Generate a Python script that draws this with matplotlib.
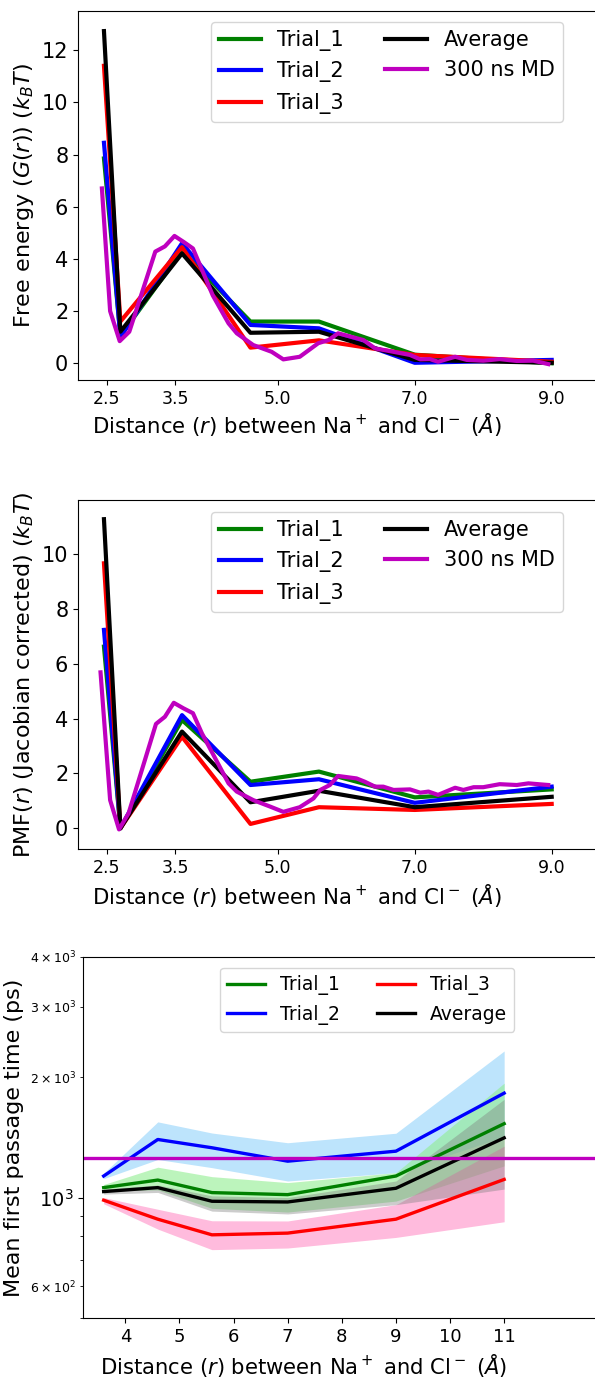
import numpy as np
import matplotlib
matplotlib.use('Agg')
import matplotlib.pyplot as plt

# x positions (Angstrom)
r_trial = [2.46, 2.7, 3.6, 4.6, 5.6, 7.0, 9.0]

# free energy G(r) in kBT
fe_trial1 = [7.85, 1.05, 4.3, 1.6, 1.6, 0.33, 0.0]
fe_trial2 = [8.45, 1.0, 4.6, 1.47, 1.34, 0.02, 0.13]
fe_trial3 = [11.4, 1.6, 4.45, 0.6, 0.88, 0.32, 0.06]
fe_avg = [12.73, 1.21, 4.21, 1.17, 1.21, 0.13, 0.02]

r_md = [2.43, 2.55, 2.69, 2.83, 3.21, 3.35, 3.49, 3.63, 3.76, 4.05, 4.28, 4.4,
        4.64, 4.91, 5.08, 5.32, 5.59, 5.74, 5.88, 6.25, 6.42, 6.69, 6.93, 7.08,
        7.22, 7.34, 7.59, 7.76, 8.0, 8.24, 8.49, 8.73, 8.95]
fe_md = [6.7, 2.0, 0.85, 1.21, 4.28, 4.48, 4.88, 4.64, 4.4, 2.6, 1.53, 1.15,
         0.7, 0.44, 0.15, 0.25, 0.77, 0.89, 1.15, 0.89, 0.57, 0.44, 0.32, 0.15,
         0.16, 0.06, 0.25, 0.13, 0.1, 0.16, 0.09, 0.1, -0.03]

# PMF (Jacobian corrected)
pmf_trial1 = [6.63, 0.0, 3.95, 1.7, 2.07, 1.13, 1.42]
pmf_trial2 = [7.24, 0.0, 4.13, 1.58, 1.79, 0.93, 1.52]
pmf_trial3 = [9.67, 0.0, 3.34, 0.16, 0.77, 0.67, 0.89]
pmf_avg = [11.28, 0.0, 3.53, 0.95, 1.37, 0.77, 1.15]

r_md2 = [2.41, 2.55, 2.68, 2.82, 3.22, 3.35, 3.48, 3.62, 3.76, 3.89, 4.28, 4.4,
         4.64, 4.89, 5.08, 5.32, 5.52, 5.62, 5.76, 5.88, 6.15, 6.27, 6.42, 6.54,
         6.69, 6.93, 7.08, 7.2, 7.34, 7.59, 7.71, 7.86, 8.0, 8.24, 8.49, 8.66, 8.95]
pmf_md = [5.69, 1.03, -0.04, 0.55, 3.81, 4.07, 4.58, 4.38, 4.2, 3.47, 1.64, 1.34,
          1.03, 0.79, 0.6, 0.77, 1.09, 1.4, 1.58, 1.91, 1.82, 1.7, 1.52, 1.52,
          1.4, 1.42, 1.3, 1.34, 1.22, 1.48, 1.4, 1.5, 1.5, 1.61, 1.58, 1.64, 1.58]

# mean first passage times (ps)
r_mfpt = [3.6, 4.6, 5.6, 7.0, 9.0, 11.0]
mfpt_trial1 = [1059, 1106, 1029, 1017, 1132, 1530]
mfpt_trial2 = [1132, 1397, 1332, 1233, 1306, 1824]
mfpt_trial3 = [985, 883, 807, 815, 883, 1110]
mfpt_avg = [1035, 1059, 979, 975, 1055, 1410]
t1_lo = [1040, 1045, 940, 920, 980, 1200]
t1_hi = [1078, 1191, 1128, 1090, 1154, 1932]
t2_lo = [1115, 1245, 1188, 1100, 1154, 1420]
t2_hi = [1150, 1546, 1450, 1371, 1448, 2325]
t3_lo = [965, 834, 741, 748, 795, 870]
t3_hi = [1000, 935, 875, 874, 960, 1344]
avg_lo = [1020, 1030, 925, 910, 960, 1050]
avg_hi = [1050, 1075, 1010, 1000, 1100, 1760]
md_mfpt = 1254

W, H = 595, 1379
fig = plt.figure(figsize=(W / 100, H / 100), dpi=100)


def box(l, t, r, b):
    return fig.add_axes([l / W, 1 - b / H, (r - l) / W, (b - t) / H])


xlab = r'Distance ($r$) between Na$^+$ and Cl$^-$ ($\AA$)'

# ---- free energy ----
ax1 = box(78, 11, 640, 380)
ax1.plot(r_trial, fe_trial1, 'g', lw=3, label='Trial_1')
ax1.plot(r_trial, fe_trial2, 'b', lw=3, label='Trial_2')
ax1.plot(r_trial, fe_trial3, 'r', lw=3, label='Trial_3')
ax1.plot(r_trial, fe_avg, 'k', lw=3, label='Average')
ax1.plot(r_md, fe_md, 'm', lw=3, label='300 ns MD')
ax1.set_xlim(2.0808, 10.29)
ax1.set_ylim(-0.64, 13.5)
ax1.set_xticks([2.5, 3.5, 5.0, 7.0, 9.0])
ax1.set_yticks(range(0, 13, 2))
ax1.set_ylabel(r'Free energy ($G(r)$) ($k_BT$)', fontsize=16)
ax1.set_xlabel(xlab, fontsize=15.3)
ax1.xaxis.set_label_coords((297 - 78) / (640 - 78), -0.085)
ax1.tick_params(axis='x', labelsize=12.5)
ax1.tick_params(axis='y', labelsize=15)
ax1.spines['right'].set_visible(False)
ax1.legend(ncol=2, fontsize=15, loc='upper right', borderaxespad=0,
           bbox_to_anchor=(563 / W, 1 - 21.7 / H), bbox_transform=fig.transFigure)

# ---- PMF ----
ax2 = box(78, 500, 640, 849)
ax2.plot(r_trial, pmf_trial1, 'g', lw=3, label='Trial_1')
ax2.plot(r_trial, pmf_trial2, 'b', lw=3, label='Trial_2')
ax2.plot(r_trial, pmf_trial3, 'r', lw=3, label='Trial_3')
ax2.plot(r_trial, pmf_avg, 'k', lw=3, label='Average')
ax2.plot(r_md2, pmf_md, 'm', lw=3, label='300 ns MD')
ax2.set_xlim(2.0808, 10.29)
ax2.set_ylim(-0.755, 11.98)
ax2.set_xticks([2.5, 3.5, 5.0, 7.0, 9.0])
ax2.set_yticks(range(0, 11, 2))
ax2.set_ylabel(r'PMF($r$) (Jacobian corrected) ($k_BT$)', fontsize=16)
ax2.set_xlabel(xlab, fontsize=15.3)
ax2.xaxis.set_label_coords((297 - 78) / (640 - 78), -0.095)
ax2.tick_params(axis='x', labelsize=12.5)
ax2.tick_params(axis='y', labelsize=15)
ax2.spines['right'].set_visible(False)
ax2.legend(ncol=2, fontsize=15, loc='upper right', borderaxespad=0,
           bbox_to_anchor=(563 / W, 1 - 511.7 / H), bbox_transform=fig.transFigure)

# ---- MFPT ----
ax3 = box(83.3, 956.7, 640, 1318)
ax3.fill_between(r_mfpt, t2_lo, t2_hi, color='lightskyblue', alpha=0.55, lw=0)
ax3.fill_between(r_mfpt, t1_lo, t1_hi, color='lightgreen', alpha=0.6, lw=0)
ax3.fill_between(r_mfpt, t3_lo, t3_hi, color='hotpink', alpha=0.45, lw=0)
ax3.fill_between(r_mfpt, avg_lo, avg_hi, color='gray', alpha=0.4, lw=0)
ax3.plot(r_mfpt, mfpt_trial1, 'g', lw=2.4, label='Trial_1')
ax3.plot(r_mfpt, mfpt_trial2, 'b', lw=2.4, label='Trial_2')
ax3.plot(r_mfpt, mfpt_trial3, 'r', lw=2.4, label='Trial_3')
ax3.plot(r_mfpt, mfpt_avg, 'k', lw=2.4, label='Average')
ax3.axhline(md_mfpt, color='m', lw=2.4)
ax3.set_yscale('log')
ax3.set_ylim(500, 4000)
ax3.set_xlim(3.2237, 13.51)
ax3.set_xticks(range(4, 12))
ax3.tick_params(axis='x', labelsize=13)
ax3.tick_params(axis='y', which='major', labelsize=14)
ax3.tick_params(axis='y', which='minor', labelsize=9)
ax3.set_ylabel('Mean first passage time (ps)', fontsize=16)
ax3.set_xlabel(xlab, fontsize=15.2)
ax3.xaxis.set_label_coords((304 - 83.3) / (640 - 83.3), -0.093)
ax3.spines['right'].set_visible(False)
ax3.legend(ncol=2, fontsize=13.5, loc='upper right', borderaxespad=0,
           bbox_to_anchor=(514.3 / W, 1 - 967.7 / H), bbox_transform=fig.transFigure)

fig.savefig('out.png', dpi=100)
